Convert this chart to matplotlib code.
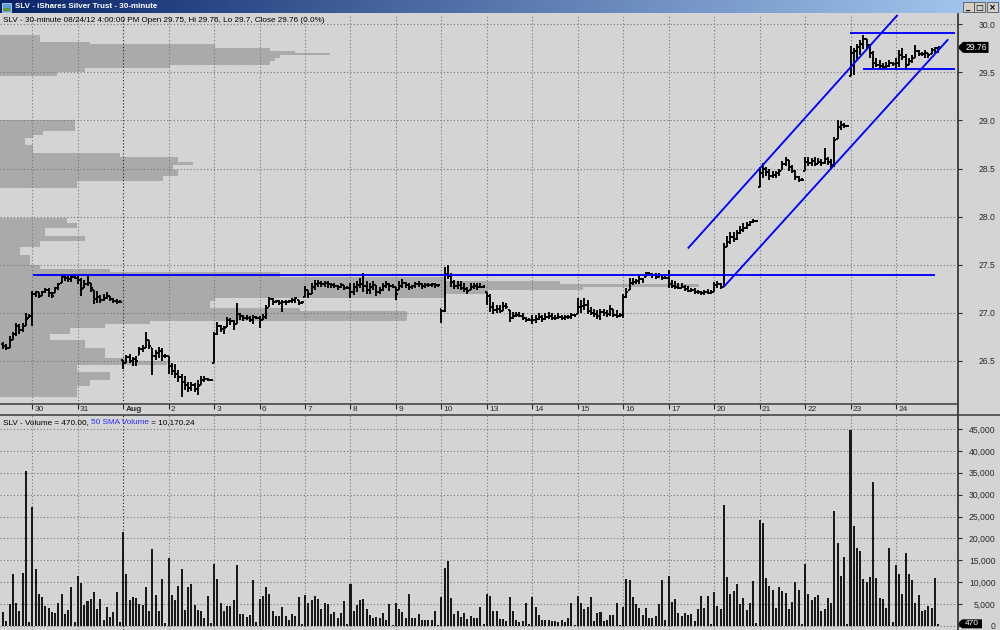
import numpy as np
import matplotlib
matplotlib.use("Agg")
import matplotlib.pyplot as plt
from matplotlib.collections import LineCollection
from matplotlib.patches import Polygon, Rectangle
from matplotlib.lines import Line2D
from matplotlib.transforms import ScaledTranslation

plt.rcParams['font.family'] = ['Liberation Sans', 'DejaVu Sans']

# ---------------------------------------------------------------- data
window_title = "SLV - iShares Silver Trust - 30-minute"
info_text = "SLV - 30-minute 08/24/12 4:00:00 PM Open 29.75, Hi 29.76, Lo 29.7, Close 29.76 (0.0%)"
vol_text_a = "SLV - Volume = 470.00, "
vol_text_b = "50 SMA Volume"
vol_text_c = " = 10,170.24"

day_labels = ["30", "31", "Aug", "2", "3", "6", "7", "8", "9", "10",
              "13", "14", "15", "16", "17", "20", "21", "22", "23", "24"]
bars_per_day = 14          # 13 regular 30-min bars + 1 closing print
bars_before_first_day = 9  # tail of Jul 27
first_open = 26.68

highs = [
    26.70, 26.68, 26.76, 26.80, 26.90, 26.88, 26.90, 27.00, 26.99,
    27.23, 27.23, 27.22, 27.23, 27.26, 27.26, 27.22, 27.27, 27.31, 27.39, 27.39, 27.38, 27.38, 27.38,
    27.38, 27.36, 27.34, 27.39, 27.31, 27.24, 27.23, 27.19, 27.20, 27.22, 27.18, 27.16, 27.14, 27.13,
    26.51, 26.56, 26.57, 26.54, 26.55, 26.65, 26.67, 26.80, 26.72, 26.64, 26.61, 26.65, 26.63, 26.57,
    26.55, 26.48, 26.47, 26.41, 26.37, 26.34, 26.28, 26.28, 26.27, 26.30, 26.34, 26.34, 26.32, 26.31,
    26.80, 26.91, 26.87, 26.86, 26.96, 26.95, 26.93, 27.10, 27.00, 26.98, 26.98, 26.97, 26.98, 26.97,
    26.97, 26.99, 27.08, 27.17, 27.15, 27.13, 27.13, 27.13, 27.13, 27.13, 27.15, 27.17, 27.13, 27.12,
    27.28, 27.24, 27.31, 27.34, 27.34, 27.33, 27.33, 27.33, 27.31, 27.31, 27.29, 27.31, 27.29, 27.28,
    27.31, 27.31, 27.33, 27.36, 27.41, 27.33, 27.31, 27.33, 27.29, 27.27, 27.31, 27.33, 27.31, 27.30,
    27.27, 27.33, 27.35, 27.32, 27.31, 27.29, 27.32, 27.33, 27.31, 27.31, 27.31, 27.31, 27.31, 27.30,
    27.04, 27.48, 27.50, 27.41, 27.34, 27.33, 27.33, 27.31, 27.27, 27.31, 27.31, 27.31, 27.31, 27.29,
    27.22, 27.20, 27.11, 27.08, 27.08, 27.11, 27.10, 27.03, 27.01, 27.01, 27.01, 27.00, 26.96, 26.95,
    26.98, 26.98, 27.00, 26.98, 27.00, 27.01, 27.00, 26.98, 27.00, 26.98, 26.98, 26.98, 27.00, 26.99,
    27.15, 27.13, 27.15, 27.13, 27.06, 27.04, 27.03, 27.04, 27.04, 27.03, 27.08, 27.04, 27.03, 27.00,
    27.20, 27.26, 27.36, 27.36, 27.35, 27.38, 27.36, 27.43, 27.43, 27.41, 27.41, 27.41, 27.39, 27.38,
    27.45, 27.34, 27.33, 27.31, 27.31, 27.29, 27.28, 27.26, 27.26, 27.24, 27.23, 27.24, 27.25, 27.24,
    27.32, 27.33, 27.31, 27.73, 27.80, 27.84, 27.84, 27.86, 27.90, 27.93, 27.95, 27.96, 27.98, 27.97,
    28.52, 28.56, 28.52, 28.50, 28.47, 28.47, 28.50, 28.58, 28.62, 28.59, 28.54, 28.49, 28.42, 28.40,
    28.62, 28.62, 28.61, 28.62, 28.61, 28.60, 28.71, 28.62, 28.60, 28.83, 29.00, 28.99, 28.97, 28.95,
    29.77, 29.75, 29.80, 29.84, 29.89, 29.85, 29.79, 29.72, 29.65, 29.63, 29.60, 29.61, 29.63, 29.61,
    29.65, 29.73, 29.75, 29.69, 29.65, 29.68, 29.78, 29.73, 29.71, 29.73, 29.70, 29.75, 29.76, 29.76,
]
lows = [
    26.62, 26.61, 26.63, 26.72, 26.76, 26.78, 26.80, 26.86, 26.95,
    26.86, 27.17, 27.16, 27.18, 27.21, 27.17, 27.16, 27.21, 27.24, 27.31, 27.33, 27.32, 27.32, 27.35,
    27.30, 27.18, 27.26, 27.28, 27.22, 27.09, 27.10, 27.10, 27.12, 27.14, 27.12, 27.10, 27.09, 27.10,
    26.42, 26.48, 26.48, 26.45, 26.45, 26.56, 26.59, 26.63, 26.62, 26.35, 26.51, 26.53, 26.50, 26.53,
    26.36, 26.35, 26.32, 26.28, 26.13, 26.20, 26.18, 26.19, 26.18, 26.15, 26.25, 26.28, 26.29, 26.29,
    26.48, 26.77, 26.80, 26.78, 26.85, 26.87, 26.82, 26.88, 26.93, 26.92, 26.93, 26.91, 26.88, 26.94,
    26.84, 26.93, 26.94, 27.06, 27.08, 27.10, 27.08, 27.01, 27.08, 27.10, 27.10, 27.10, 27.08, 27.09,
    27.17, 27.15, 27.20, 27.24, 27.27, 27.27, 27.27, 27.26, 27.26, 27.26, 27.24, 27.26, 27.24, 27.25,
    27.15, 27.19, 27.22, 27.26, 27.22, 27.20, 27.20, 27.24, 27.18, 27.20, 27.23, 27.26, 27.23, 27.26,
    27.13, 27.24, 27.26, 27.26, 27.24, 27.25, 27.26, 27.27, 27.25, 27.26, 27.27, 27.27, 27.26, 27.27,
    26.89, 27.01, 27.35, 27.27, 27.25, 27.25, 27.24, 27.22, 27.20, 27.24, 27.25, 27.24, 27.26, 27.26,
    27.08, 27.01, 26.99, 27.00, 27.00, 27.02, 27.04, 26.91, 26.94, 26.96, 26.96, 26.93, 26.91, 26.92,
    26.88, 26.90, 26.93, 26.91, 26.93, 26.94, 26.93, 26.93, 26.94, 26.93, 26.93, 26.94, 26.94, 26.96,
    26.99, 27.00, 27.03, 26.99, 26.98, 26.96, 26.94, 26.93, 26.97, 26.96, 26.97, 26.96, 26.95, 26.96,
    26.95, 27.15, 27.24, 27.29, 27.30, 27.30, 27.31, 27.37, 27.38, 27.36, 27.35, 27.36, 27.34, 27.35,
    27.26, 27.26, 27.25, 27.25, 27.26, 27.23, 27.22, 27.22, 27.20, 27.20, 27.19, 27.19, 27.20, 27.20,
    27.22, 27.26, 27.25, 27.27, 27.69, 27.72, 27.74, 27.76, 27.82, 27.84, 27.87, 27.90, 27.93, 27.95,
    28.31, 28.40, 28.42, 28.38, 28.40, 28.40, 28.42, 28.49, 28.53, 28.48, 28.45, 28.38, 28.36, 28.37,
    28.48, 28.53, 28.53, 28.53, 28.55, 28.53, 28.55, 28.54, 28.50, 28.52, 28.81, 28.90, 28.92, 28.93,
    29.46, 29.47, 29.63, 29.68, 29.74, 29.73, 29.65, 29.54, 29.56, 29.54, 29.54, 29.54, 29.56, 29.57,
    29.52, 29.56, 29.63, 29.52, 29.58, 29.60, 29.65, 29.67, 29.67, 29.65, 29.65, 29.69, 29.70, 29.70,
]
closes = [
    26.66, 26.63, 26.72, 26.78, 26.86, 26.82, 26.84, 26.94, 26.97,
    27.20, 27.22, 27.18, 27.22, 27.24, 27.21, 27.18, 27.26, 27.30, 27.37, 27.36, 27.35, 27.37, 27.36,
    27.34, 27.25, 27.30, 27.33, 27.26, 27.14, 27.17, 27.13, 27.15, 27.18, 27.14, 27.12, 27.11, 27.11,
    26.48, 26.54, 26.50, 26.52, 26.50, 26.62, 26.64, 26.72, 26.66, 26.55, 26.58, 26.60, 26.55, 26.55,
    26.45, 26.40, 26.36, 26.33, 26.28, 26.25, 26.22, 26.25, 26.21, 26.24, 26.30, 26.31, 26.30, 26.30,
    26.78, 26.86, 26.83, 26.84, 26.93, 26.92, 26.86, 26.99, 26.97, 26.95, 26.95, 26.93, 26.96, 26.95,
    26.92, 26.96, 27.05, 27.14, 27.11, 27.12, 27.10, 27.11, 27.11, 27.12, 27.13, 27.15, 27.10, 27.11,
    27.24, 27.20, 27.27, 27.30, 27.31, 27.30, 27.31, 27.30, 27.29, 27.28, 27.27, 27.29, 27.26, 27.26,
    27.22, 27.27, 27.29, 27.30, 27.28, 27.24, 27.27, 27.29, 27.22, 27.24, 27.28, 27.30, 27.28, 27.28,
    27.20, 27.28, 27.31, 27.29, 27.27, 27.28, 27.30, 27.30, 27.28, 27.29, 27.29, 27.30, 27.29, 27.29,
    27.02, 27.40, 27.38, 27.32, 27.28, 27.29, 27.26, 27.25, 27.23, 27.27, 27.28, 27.27, 27.27, 27.27,
    27.18, 27.06, 27.03, 27.04, 27.02, 27.07, 27.06, 26.95, 26.97, 26.98, 26.97, 26.95, 26.93, 26.93,
    26.93, 26.94, 26.96, 26.94, 26.96, 26.97, 26.95, 26.95, 26.96, 26.95, 26.96, 26.96, 26.98, 26.97,
    27.06, 27.07, 27.08, 27.02, 27.00, 26.99, 26.97, 27.01, 27.00, 26.99, 27.04, 26.98, 26.97, 26.98,
    27.17, 27.22, 27.31, 27.32, 27.33, 27.35, 27.33, 27.41, 27.40, 27.39, 27.37, 27.39, 27.36, 27.36,
    27.30, 27.28, 27.27, 27.26, 27.27, 27.25, 27.23, 27.24, 27.22, 27.22, 27.21, 27.22, 27.21, 27.22,
    27.29, 27.30, 27.27, 27.68, 27.74, 27.79, 27.77, 27.83, 27.86, 27.88, 27.91, 27.94, 27.96, 27.96,
    28.45, 28.50, 28.46, 28.42, 28.43, 28.45, 28.48, 28.55, 28.59, 28.52, 28.47, 28.41, 28.38, 28.38,
    28.57, 28.56, 28.58, 28.55, 28.57, 28.56, 28.60, 28.57, 28.54, 28.80, 28.93, 28.95, 28.94, 28.94,
    29.70, 29.72, 29.76, 29.80, 29.85, 29.78, 29.70, 29.60, 29.58, 29.57, 29.56, 29.57, 29.60, 29.59,
    29.60, 29.68, 29.66, 29.57, 29.62, 29.65, 29.72, 29.69, 29.69, 29.70, 29.68, 29.73, 29.75, 29.76,
]
volumes_k = [
    3.1, 1.2, 4.9, 11.8, 5.3, 3.4, 12.0, 35.5, 0.8,
    27.2, 13.1, 7.2, 6.7, 4.6, 4.2, 3.1, 3.0, 5.3, 7.3, 2.7, 3.6, 8.8, 0.9,
    11.5, 9.8, 4.8, 5.8, 6.1, 7.7, 3.9, 6.2, 1.4, 4.3, 2.1, 3.1, 7.7, 0.8,
    21.5, 11.9, 5.9, 6.5, 6.4, 5.0, 4.8, 8.8, 3.3, 17.6, 7.1, 3.4, 10.8, 0.7,
    15.6, 7.1, 5.9, 9.1, 13.0, 3.7, 8.8, 9.5, 4.7, 3.6, 3.4, 1.9, 6.8, 0.7,
    14.2, 10.7, 5.3, 3.3, 4.6, 4.6, 5.9, 14.0, 2.7, 2.8, 2.1, 2.5, 10.4, 0.8,
    6.2, 6.8, 8.9, 7.2, 3.4, 2.2, 2.2, 4.4, 2.2, 1.3, 2.7, 2.2, 6.6, 0.4,
    7.1, 5.2, 5.9, 6.8, 6.2, 3.9, 5.3, 5.0, 2.7, 3.2, 1.8, 3.0, 5.6, 0.5,
    9.5, 3.4, 4.7, 5.9, 6.2, 3.9, 2.5, 1.8, 2.1, 1.7, 2.9, 1.3, 5.0, 0.2,
    5.3, 3.9, 3.2, 1.8, 7.4, 1.8, 1.9, 2.7, 1.3, 1.3, 1.3, 1.4, 3.5, 0.3,
    6.6, 13.2, 14.8, 6.4, 2.7, 3.3, 2.1, 2.9, 1.5, 2.2, 1.8, 1.9, 4.3, 0.4,
    7.4, 6.8, 3.4, 3.3, 1.6, 1.6, 1.1, 6.6, 3.3, 1.3, 1.0, 1.1, 5.3, 0.4,
    6.7, 4.3, 2.5, 1.4, 1.4, 1.3, 1.2, 1.1, 1.0, 1.4, 1.0, 1.8, 5.3, 0.3,
    6.8, 5.2, 3.9, 4.3, 6.6, 1.1, 2.9, 3.1, 1.1, 1.4, 2.4, 2.4, 5.3, 0.3,
    4.4, 10.7, 10.4, 6.7, 4.9, 4.2, 2.5, 4.2, 1.9, 1.9, 2.2, 5.1, 10.4, 1.3,
    11.5, 5.5, 6.1, 2.9, 2.3, 3.0, 2.4, 2.8, 1.2, 3.8, 6.8, 4.2, 6.8, 0.4,
    7.8, 4.5, 3.9, 27.7, 11.2, 7.4, 8.0, 9.5, 5.0, 6.3, 3.6, 5.2, 10.3, 0.6,
    24.3, 23.6, 10.9, 9.1, 8.1, 4.2, 8.9, 8.0, 7.6, 3.8, 5.5, 10.0, 8.3, 0.4,
    14.1, 7.4, 5.9, 6.7, 7.1, 3.5, 3.8, 6.4, 5.2, 26.3, 18.9, 11.5, 15.7, 0.4,
    44.7, 22.8, 17.9, 17.1, 10.7, 10.0, 11.2, 32.9, 10.9, 6.4, 6.2, 4.2, 17.9, 1.0,
    14.0, 11.9, 7.3, 16.6, 11.8, 10.4, 5.3, 7.0, 3.5, 3.6, 4.6, 4.2, 10.9, 0.47,
]

# volume-at-price profile: price bands and relative volume (% of the largest band)
prof_top = [29.89, 29.82, 29.79, 29.75, 29.72, 29.70, 29.68, 29.65, 29.62, 29.58, 29.55, 29.50,
            29.01, 28.89, 28.85, 28.82, 28.75, 28.66, 28.62, 28.57, 28.54, 28.49, 28.42, 28.37,
            27.99, 27.93, 27.88, 27.80, 27.75, 27.68, 27.60,
            27.50, 27.46, 27.42, 27.37, 27.33, 27.30, 27.27, 27.24, 27.20, 27.16, 27.12, 27.05,
            27.02, 26.92, 26.88, 26.84, 26.78, 26.72, 26.64, 26.53, 26.50, 26.46, 26.39, 26.30, 26.24]
prof_bot = [29.82, 29.79, 29.75, 29.72, 29.70, 29.68, 29.65, 29.62, 29.58, 29.55, 29.50, 29.46,
            28.89, 28.85, 28.82, 28.75, 28.66, 28.62, 28.57, 28.54, 28.49, 28.42, 28.37, 28.30,
            27.93, 27.88, 27.80, 27.75, 27.68, 27.60, 27.50,
            27.46, 27.42, 27.37, 27.33, 27.30, 27.27, 27.24, 27.20, 27.16, 27.12, 27.05, 27.02,
            26.92, 26.88, 26.84, 26.78, 26.72, 26.64, 26.53, 26.50, 26.46, 26.39, 26.30, 26.24, 26.13]
prof_vol = [5.7, 12.9, 30.8, 38.7, 42.3, 47.3, 40.1, 39.4, 38.7, 24.4, 12.2, 8.2,
            10.7, 6.2, 4.7, 3.6, 4.7, 17.2, 25.5, 27.7, 24.8, 25.5, 23.4, 11.0,
            9.6, 11.0, 6.4, 12.2, 5.7, 2.9, 4.3,
            5.7, 15.8, 40.1, 63.5, 80.2, 100.0, 83.5, 69.8, 63.5, 30.8, 30.1, 43.0,
            58.3, 21.5, 15.0, 10.0, 7.2, 12.2, 15.0, 17.9, 23.9, 11.0, 15.8, 12.9, 11.0]

# hand-drawn study lines (bar index, price)
resistance_line = [(0.2, 27.397), (278.0, 27.397)]
channel_upper = [(201.9, 27.670), (266.5, 30.097)]
channel_lower = [(213.0, 27.272), (282.1, 29.844)]
range_top = [(251.8, 29.906), (284.2, 29.906)]
range_bottom = [(255.9, 29.532), (284.2, 29.532)]

price_ticks = [26.5, 27.0, 27.5, 28.0, 28.5, 29.0, 29.5, 30.0]
volume_ticks = [0, 5000, 10000, 15000, 20000, 25000, 30000, 35000, 40000, 45000]

# ---------------------------------------------------------------- layout
W, H = 1000.0, 630.0
BG = '#d4d4d4'
GRID = '#767676'
fig = plt.figure(figsize=(W / 100, H / 100), dpi=100)
fig.patch.set_facecolor(BG)

def fx(px):
    return px / W

def fy(py):
    return 1.0 - py / H

AX_R = 957.0
P_TOP, P_BOT = 14.0, 404.0
V_TOP, V_BOT = 415.0, 630.0
rect_p = [0, fy(P_BOT), fx(AX_R), (P_BOT - P_TOP) / H]
rect_v = [0, fy(V_BOT), fx(AX_R), (V_BOT - V_TOP) / H]

X_LIM = (-9.95, 284.8)
P_LIM = (26.053, 30.107)
V_LIM = (-940, 48200)

ax_prof = fig.add_axes(rect_p)
ax_p = fig.add_axes(rect_p)
ax_v = fig.add_axes(rect_v)
for a in (ax_prof, ax_p, ax_v):
    a.patch.set_visible(False)
    for s in a.spines.values():
        s.set_visible(False)

# ---- volume profile
ax_prof.set_ylim(*P_LIM)
ax_prof.set_xlim(0, 137)
ptop = np.array(prof_top)
pbot = np.array(prof_bot)
ax_prof.barh(pbot, prof_vol, height=ptop - pbot, left=0, align='edge',
             color='#aaaaaa', linewidth=0)
ax_prof.set_xticks([])
ax_prof.set_yticks([])

# ---- price bars
n = len(closes)
idx = np.arange(n) - bars_before_first_day
opens = []
prev = first_open
for k in range(n):
    opens.append(min(max(prev, lows[k]), highs[k]))
    prev = closes[k]

tick = 0.55
segs = []
for k in range(n):
    x = idx[k]
    segs.append([(x, lows[k]), (x, highs[k])])
    segs.append([(x - tick, opens[k]), (x, opens[k])])
    segs.append([(x, closes[k]), (x + tick, closes[k])])
ax_p.add_collection(LineCollection(segs, colors='black', linewidths=1.35,
                                   capstyle='butt', zorder=4))
ax_p.set_xlim(*X_LIM)
ax_p.set_ylim(*P_LIM)

day_pos = [d * bars_per_day for d in range(len(day_labels))]
for a in (ax_p, ax_v):
    for d, x in enumerate(day_pos):
        c = '#202020' if day_labels[d] == 'Aug' else GRID
        a.axvline(x, color=c, lw=0.8, ls=(0, (1, 2)), zorder=2)
for p in price_ticks:
    ax_p.axhline(p, color=GRID, lw=0.8, ls=(0, (1, 2)), zorder=2)

# study lines
for ln in (resistance_line, channel_upper, channel_lower, range_top, range_bottom):
    ax_p.plot([ln[0][0], ln[1][0]], [ln[0][1], ln[1][1]], color='#0000ff',
              lw=1.35, zorder=6, solid_capstyle='butt')

# price axis on the right
TICK_LEN = 3.5   # points
LAB_PAD = 24.3   # points, puts the right edge of labels near x = 996 px
ax_p.yaxis.tick_right()
ax_p.set_yticks(price_ticks)
ax_p.set_yticklabels([f"{p:.1f}" for p in price_ticks])
ax_p.tick_params(axis='y', direction='out', length=TICK_LEN, width=0.8, colors='#2a2a2a',
                 labelsize=6.2, pad=LAB_PAD)
for lab in ax_p.get_yticklabels():
    lab.set_ha('right')

# date axis
ax_p.set_xticks(day_pos)
ax_p.set_xticklabels(day_labels)
ax_p.tick_params(axis='x', direction='out', length=3.6, width=0.8, colors='#2a2a2a',
                 labelsize=6.0, pad=-1.9)
shift = ScaledTranslation(2.2 / 100, 0, fig.dpi_scale_trans)
for lab in ax_p.get_xticklabels():
    lab.set_ha('left')
    lab.set_transform(lab.get_transform() + shift)
    if lab.get_text() == 'Aug':
        lab.set_fontweight('bold')

# ---- volume bars
vol = np.array(volumes_k) * 1000.0
ax_v.bar(idx, vol, width=0.62, color='#1a1a1a', linewidth=0, zorder=3)
ax_v.set_xlim(*X_LIM)
ax_v.set_ylim(*V_LIM)
for v in volume_ticks:
    ax_v.axhline(v, color=GRID, lw=0.8, ls=(0, (1, 2)), zorder=2)
ax_v.set_xticks([])
ax_v.yaxis.tick_right()
ax_v.set_yticks(volume_ticks)
ax_v.set_yticklabels([f"{v:,}" for v in volume_ticks])
ax_v.tick_params(axis='y', direction='out', length=TICK_LEN, width=0.8, colors='#2a2a2a',
                 labelsize=6.2, pad=LAB_PAD)
for lab in ax_v.get_yticklabels():
    lab.set_ha('right')

# ---- last value markers
tr = ax_p.get_yaxis_transform()
last = closes[-1]
hh = 5.5 * (P_LIM[1] - P_LIM[0]) / (P_BOT - P_TOP)
tip, sh, rr = 1 + 0.5 / AX_R, 1 + 6 / AX_R, 1 + 31.5 / AX_R
ax_p.add_patch(Polygon([(tip, last), (sh, last + hh), (rr, last + hh), (rr, last - hh),
                        (sh, last - hh)], closed=True, transform=tr, clip_on=False,
                       fc='black', ec='none', zorder=10))
ax_p.text((sh + rr) / 2 + 0.5 / AX_R, last, f"{last:.2f}", transform=tr, color='white',
          fontsize=6.2, ha='center', va='center', clip_on=False, zorder=11)

trv = ax_v.get_yaxis_transform()
lastv = vol[-1]
hv = 4.5 * (V_LIM[1] - V_LIM[0]) / (V_BOT - V_TOP)
tip, sh, rr = 1 + 0.5 / AX_R, 1 + 5 / AX_R, 1 + 25 / AX_R
ax_v.add_patch(Polygon([(tip, lastv), (sh, lastv + hv), (rr, lastv + hv), (rr, lastv - hv),
                        (sh, lastv - hv)], closed=True, transform=trv, clip_on=False,
                       fc='black', ec='none', zorder=10))
ax_v.text((sh + rr) / 2, lastv, f"{lastv:.0f}", transform=trv, color='white',
          fontsize=6.0, ha='center', va='center', clip_on=False, zorder=11)

# ---- separators
fig.add_artist(Line2D([0, fx(AX_R)], [fy(P_BOT), fy(P_BOT)], color='#3a3a3a', lw=1.1))
fig.add_artist(Line2D([0, 1], [fy(V_TOP), fy(V_TOP)], color='#3a3a3a', lw=1.1))
fig.add_artist(Line2D([fx(AX_R + 0.5)] * 2, [fy(P_TOP), 0], color='#3a3a3a', lw=1.3))

# ---- window title bar
ax_t = fig.add_axes([0, fy(13), 1, 13 / H])
grad = np.linspace(0, 1, 256)
c0 = np.array([10, 36, 106]) / 255.0
c1 = np.array([166, 202, 240]) / 255.0
img = (c0[None, :] * (1 - grad[:, None]) + c1[None, :] * grad[:, None])[None, :, :]
ax_t.imshow(img, aspect='auto', extent=[0, 1, 0, 1])
ax_t.set_axis_off()
fig.add_artist(Rectangle((fx(2), fy(11.5)), 9 / W, 9 / H, transform=fig.transFigure,
                         fc='#5fa0e0', ec='#dfe8f0', lw=0.5))
fig.add_artist(Rectangle((fx(3), fy(11)), 7 / W, 3 / H, transform=fig.transFigure,
                         fc='#5a9a3a', ec='none'))
t_title = fig.text(fx(15), fy(6.8), window_title, color='white', fontweight='bold',
                   fontsize=6.2, va='center', ha='left')
for (x0, glyph) in ((963, '_'), (974, '\u25a1'), (987, '\u00d7')):
    fig.add_artist(Rectangle((fx(x0), fy(12)), 11 / W, 10 / H, transform=fig.transFigure,
                             fc='#d4d0c8', ec='#404040', lw=0.5))
    fig.text(fx(x0 + 5.5), fy(7.3), glyph, fontsize=6, fontweight='bold', color='black',
             ha='center', va='center', family=['DejaVu Sans'])

# ---- header texts
t_info = fig.text(fx(3), fy(20), info_text, fontsize=6.0, va='center', ha='left',
                  color='black')
t_va = fig.text(fx(3), fy(422.3), vol_text_a, fontsize=6.0, va='center', ha='left',
                color='black')
t_vb = ax_v.annotate(vol_text_b, xy=(1, 0), xycoords=t_va, va='bottom', ha='left',
                     fontsize=6.0, color='#2b2bff', annotation_clip=False)
t_vc = ax_v.annotate(vol_text_c, xy=(1, 0), xycoords=t_vb, va='bottom', ha='left',
                     fontsize=6.0, color='black', annotation_clip=False)

# fit header text widths to the reference
fig.canvas.draw()
r = fig.canvas.get_renderer()
def fit(t, target):
    w = t.get_window_extent(r).width
    t.set_fontsize(t.get_fontsize() * target / w)
fit(t_info, 327)
fit(t_title, 143)
w_all = sum(t.get_window_extent(r).width for t in (t_va, t_vb, t_vc))
scale = 194.0 / w_all
for t in (t_va, t_vb, t_vc):
    t.set_fontsize(t.get_fontsize() * scale)

fig.savefig('out.png', dpi=100, facecolor=BG)
